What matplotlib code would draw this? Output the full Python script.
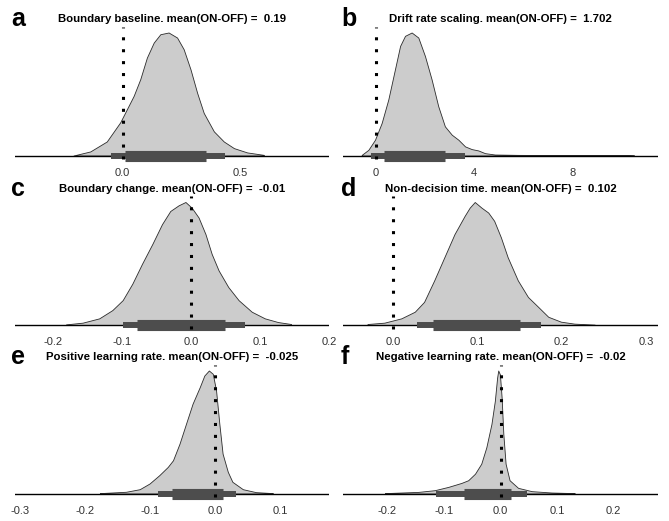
import matplotlib.pyplot as plt
from matplotlib.transforms import blended_transform_factory

plt.rcParams['font.family'] = ['Liberation Sans', 'DejaVu Sans']

# posterior densities (ON-OFF difference), peak scaled to 1
a_x = [-0.208, -0.137, -0.067, -0.010, 0.047, 0.075, 0.103, 0.132, 0.160, 0.195,
       0.231, 0.259, 0.288, 0.316, 0.344, 0.387, 0.429, 0.472, 0.528, 0.599]
a_dens = [0.0, 0.033, 0.114, 0.27, 0.485, 0.621, 0.796, 0.918, 0.986, 1.0,
          0.959, 0.864, 0.700, 0.510, 0.346, 0.196, 0.114, 0.060, 0.025, 0.005]

b_x = [-0.57, -0.30, -0.03, 0.24, 0.51, 0.78, 0.99, 1.19, 1.46, 1.73, 2.00, 2.27,
       2.54, 2.81, 3.09, 3.36, 3.63, 3.90, 4.17, 4.44, 4.84, 5.79, 7.82, 9.99, 10.5]
b_dens = [0.005, 0.046, 0.128, 0.264, 0.455, 0.700, 0.891, 0.973, 1.0, 0.959, 0.809,
          0.619, 0.401, 0.237, 0.169, 0.128, 0.074, 0.052, 0.041, 0.019, 0.008,
          0.005, 0.003, 0.003, 0.0]

c_x = [-0.181, -0.157, -0.133, -0.114, -0.099, -0.085, -0.071, -0.056, -0.042,
       -0.030, -0.018, -0.008, 0.001, 0.011, 0.021, 0.030, 0.040, 0.054, 0.069,
       0.088, 0.107, 0.126, 0.145]
c_dens = [0.005, 0.019, 0.054, 0.121, 0.202, 0.336, 0.497, 0.659, 0.820, 0.927,
          0.973, 1.0, 0.954, 0.874, 0.739, 0.578, 0.444, 0.309, 0.202, 0.108,
          0.054, 0.024, 0.008]

d_x = [-0.030, -0.010, 0.010, 0.026, 0.037, 0.049, 0.061, 0.073, 0.085, 0.091,
       0.097, 0.105, 0.113, 0.120, 0.128, 0.136, 0.148, 0.160, 0.172, 0.184,
       0.199, 0.215, 0.239]
d_dens = [0.008, 0.019, 0.054, 0.108, 0.188, 0.363, 0.551, 0.739, 0.887, 0.954,
          1.0, 0.954, 0.914, 0.847, 0.712, 0.551, 0.363, 0.228, 0.148, 0.067,
          0.027, 0.011, 0.003]

e_x = [-0.177, -0.137, -0.116, -0.101, -0.086, -0.073, -0.065, -0.055, -0.045,
       -0.035, -0.024, -0.017, -0.010, -0.004, 0.001, 0.006, 0.011, 0.019, 0.026,
       0.042, 0.062, 0.088]
e_dens = [0.003, 0.014, 0.035, 0.081, 0.149, 0.216, 0.270, 0.405, 0.568, 0.730,
          0.865, 0.959, 1.0, 0.973, 0.838, 0.568, 0.324, 0.176, 0.095, 0.035,
          0.011, 0.003]

f_x = [-0.204, -0.145, -0.116, -0.092, -0.069, -0.057, -0.045, -0.034, -0.025,
       -0.016, -0.010, -0.006, -0.004, -0.001, 0.002, 0.005, 0.009, 0.016, 0.031,
       0.055, 0.090, 0.131]
f_dens = [0.003, 0.013, 0.027, 0.054, 0.086, 0.108, 0.161, 0.242, 0.376, 0.565,
          0.753, 0.941, 1.0, 0.968, 0.780, 0.484, 0.242, 0.108, 0.046, 0.019,
          0.008, 0.003]

# credible intervals: (outer lo, outer hi), (inner lo, inner hi)
a_ci = [(-0.050, 0.436), (0.011, 0.354)]
b_ci = [(-0.19, 3.63), (0.35, 2.81)]
c_ci = [(-0.099, 0.079), (-0.078, 0.049)]
d_ci = [(0.029, 0.175), (0.048, 0.151)]
e_ci = [(-0.088, 0.032), (-0.066, 0.012)]
f_ci = [(-0.113, 0.047), (-0.064, 0.018)]

titles = ['Boundary baseline. mean(ON-OFF) =  0.19',
          'Drift rate scaling. mean(ON-OFF) =  1.702',
          'Boundary change. mean(ON-OFF) =  -0.01',
          'Non-decision time. mean(ON-OFF) =  0.102',
          'Positive learning rate. mean(ON-OFF) =  -0.025',
          'Negative learning rate. mean(ON-OFF) =  -0.02']
letters = ['a', 'b', 'c', 'd', 'e', 'f']

ticks = [[0.0, 0.5], [0, 4, 8], [-0.2, -0.1, 0.0, 0.1, 0.2],
         [0.0, 0.1, 0.2, 0.3], [-0.3, -0.2, -0.1, 0.0, 0.1],
         [-0.2, -0.1, 0.0, 0.1, 0.2]]
tick_labels = [['0.0', '0.5'], ['0', '4', '8'],
               ['-0.2', '-0.1', '0.0', '0.1', '0.2'],
               ['0.0', '0.1', '0.2', '0.3'],
               ['-0.3', '-0.2', '-0.1', '0.0', '0.1'],
               ['-0.2', '-0.1', '0.0', '0.1', '0.2']]
xlims = [(-0.456, 0.875), (-1.33, 11.47), (-0.255, 0.2),
         (-0.059, 0.314), (-0.307, 0.174), (-0.278, 0.278)]

xs = [a_x, b_x, c_x, d_x, e_x, f_x]
dens = [a_dens, b_dens, c_dens, d_dens, e_dens, f_dens]
cis = [a_ci, b_ci, c_ci, d_ci, e_ci, f_ci]

W, H = 669, 521
scale = 123.0          # pixels per unit of relative density
ymin, ymax = -0.1, 1.1
cols = [(15, 329), (343, 658)]
baselines = [155.5, 325, 493.5]
letter_x = [11, 341]

fig = plt.figure(figsize=(W / 100, H / 100), dpi=100, facecolor='white')

for i in range(6):
    row, col = divmod(i, 2)
    left, right = cols[col]
    base = baselines[row]
    bottom = H - base + ymin * scale
    ax = fig.add_axes([left / W, bottom / H, (right - left) / W,
                       (ymax - ymin) * scale / H])

    ax.fill_between(xs[i], dens[i], 0, facecolor='#cccccc',
                    edgecolor='#2b2b2b', linewidth=0.6, zorder=1)
    ax.axhline(0, color='black', linewidth=1.0, zorder=2)
    (lo1, hi1), (lo2, hi2) = cis[i]
    ax.plot([lo1, hi1], [0, 0], color='#4d4d4d', linewidth=4.3,
            solid_capstyle='butt', zorder=3)
    ax.plot([lo2, hi2], [0, 0], color='#4d4d4d', linewidth=8.0,
            solid_capstyle='butt', zorder=4)
    ax.plot([0, 0], [-0.03, 1.045], color='black', linewidth=2.2,
            linestyle=(0, (1, 2.9)), dash_capstyle='butt', zorder=5,
            clip_on=False)

    ax.set_xlim(*xlims[i])
    ax.set_ylim(ymin, ymax)
    ax.set_xticks(ticks[i])
    ax.set_xticklabels(tick_labels[i])
    ax.set_yticks([])
    ax.tick_params(axis='x', length=0, pad=0, labelsize=8,
                   labelcolor='#333333')
    for sp in ax.spines.values():
        sp.set_visible(False)
    ax.patch.set_alpha(0)

    trans = blended_transform_factory(ax.transAxes, ax.transData)
    ax.text(0.5, 136.5 / scale, titles[i], transform=trans, ha='center',
            va='center', fontsize=8.2, fontweight='bold', clip_on=False)

    fig.text(letter_x[col] / W, 1 - (base - 129) / H, letters[i],
             ha='left', va='baseline', fontsize=18, fontweight='bold')

fig.savefig('out.png', dpi=100, facecolor='white')
